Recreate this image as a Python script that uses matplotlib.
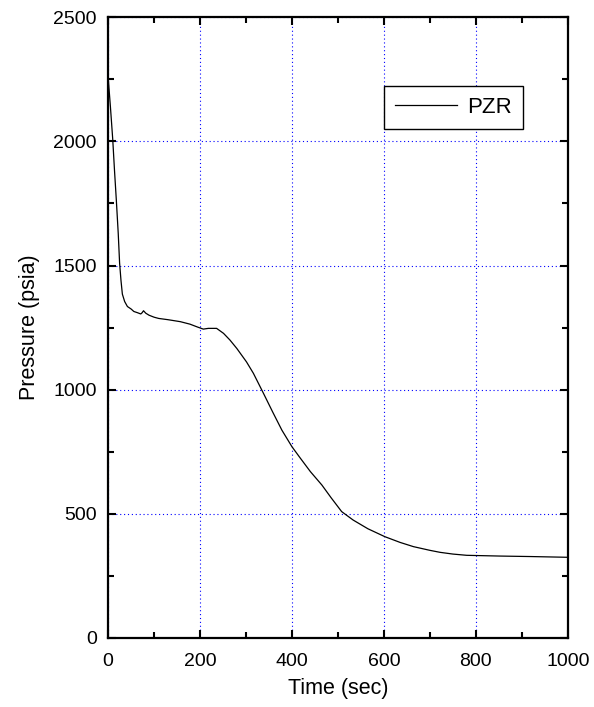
import matplotlib.pyplot as plt
from matplotlib.ticker import MultipleLocator

plt.rcParams['font.family'] = ['Liberation Sans', 'DejaVu Sans']

# PZR pressure transient
time_sec = [0, 5, 10, 14, 18, 22, 25, 28, 31, 36, 42, 50, 56, 64, 71, 74, 77, 82, 89,
            100, 110, 130, 157, 178, 195, 207, 218, 236, 251, 265, 280, 301, 316, 338,
            358, 378, 400, 417, 440, 465, 485, 508, 533, 565, 602, 635, 664, 700, 722,
            750, 780, 852, 920, 1000]
pzr_psia = [2260, 2140, 2010, 1880, 1760, 1630, 1510, 1440, 1385, 1355, 1335, 1325, 1315,
            1310, 1305, 1310, 1318, 1308, 1300, 1292, 1287, 1282, 1274, 1264, 1252, 1244,
            1247, 1247, 1227, 1200, 1166, 1112, 1066, 985, 910, 837, 770, 727, 670, 616,
            565, 509, 475, 440, 408, 385, 368, 353, 345, 338, 333, 330, 328, 325]

fig = plt.figure(figsize=(5.94, 7.07), dpi=100)
ax = fig.add_axes([0.182, 0.0976, 0.774, 0.878])

ax.plot(time_sec, pzr_psia, color='black', lw=0.9, label='PZR')

ax.set_xlim(0, 1000)
ax.set_ylim(0, 2500)
ax.xaxis.set_major_locator(MultipleLocator(200))
ax.xaxis.set_minor_locator(MultipleLocator(100))
ax.yaxis.set_major_locator(MultipleLocator(500))
ax.yaxis.set_minor_locator(MultipleLocator(250))
ax.tick_params(which='both', direction='in', top=True, right=True, labelsize=14, width=1.5)
ax.tick_params(axis='x', pad=10.5)
ax.tick_params(axis='y', pad=8)
ax.tick_params(which='major', length=6)
ax.tick_params(which='minor', length=4)
for s in ax.spines.values():
    s.set_linewidth(1.6)

ax.grid(which='major', color='blue', linestyle=(0, (1, 2.5)), lw=0.8)

ax.set_xlabel('Time (sec)', fontsize=15.5, labelpad=6)
ax.set_ylabel('Pressure (psia)', fontsize=15.5, labelpad=10)

leg = ax.legend(loc='lower right', bbox_to_anchor=(0.902, 0.820), fancybox=False,
                edgecolor='black', fontsize=16, framealpha=1, handlelength=2.8,
                handletextpad=0.45, borderpad=0.5, borderaxespad=0)
leg.get_frame().set_linewidth(1.0)

plt.savefig('out.png', dpi=100)
